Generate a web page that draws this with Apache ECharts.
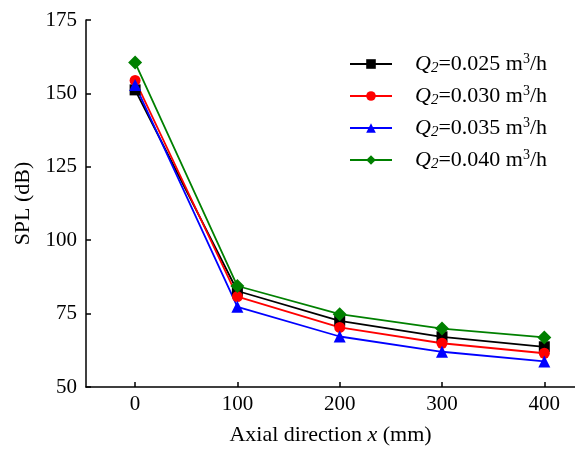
<!DOCTYPE html>
<html><head><meta charset="utf-8">
<script src="https://cdn.jsdelivr.net/npm/echarts@6/dist/echarts.min.js"></script>
<style>html,body{margin:0;padding:0;background:#fff}#c{width:575px;height:451px}</style>
</head><body><div id="c"></div>
<script>
const xValues = [0, 100, 200, 300, 400];
const q025 = [151.2, 82.7, 72.5, 67.1, 63.7];
const q030 = [154.4, 80.8, 70.3, 64.9, 61.5];
const q035 = [152.9, 77.3, 67.2, 62.0, 58.7];
const q040 = [160.5, 84.4, 74.8, 69.9, 66.9];
const seriesNames = ['0.025', '0.030', '0.035', '0.040'];
const xTicks = [0, 100, 200, 300, 400];
const yTicks = [50, 75, 100, 125, 150, 175];

const font = 'Liberation Serif';
const fs = 21;
const chart = echarts.init(document.getElementById('c'));
function mk(name, data, color, symbol, size) {
  return {
    name: name, type: 'line', data: xValues.map((x, i) => [x, data[i]]),
    symbol: symbol, symbolSize: size,
    lineStyle: { color: color, width: 1.8 },
    itemStyle: { color: color },
    emphasis: { disabled: true }, animation: false
  };
}
chart.setOption({
  animation: false,
  grid: { left: 86, top: 20, right: 0, bottom: 63, containLabel: false },
  legend: {
    left: 344, top: 47, orient: 'vertical', itemWidth: 42, itemHeight: 12, itemGap: 8,
    data: seriesNames,
    formatter: n => '{q|Q}{s|2}{n|=' + n + ' m}{p|3}{n|/h}',
    textStyle: {
      fontFamily: font, fontSize: 22, color: '#000', padding: [0, 0, 0, 18],
      rich: {
        q: { fontFamily: font, fontSize: 22, fontStyle: 'italic', color: '#000', height: 25 },
        s: { fontFamily: font, fontSize: 15, fontStyle: 'italic', color: '#000', padding: [9, 0, 0, 0] },
        n: { fontFamily: font, fontSize: 22, color: '#000' },
        p: { fontFamily: font, fontSize: 14, color: '#000', padding: [0, 0, 10, 0] }
      }
    }
  },
  xAxis: {
    type: 'value', min: -48, max: 430,
    axisLine: { show: true, onZero: false, lineStyle: { color: '#000', width: 1.5 } },
    axisTick: { show: true, inside: true, length: 5, customValues: xTicks, lineStyle: { color: '#000', width: 1.5 } },
    axisLabel: { fontFamily: font, fontSize: fs, color: '#000', margin: 7, customValues: xTicks },
    splitLine: { show: false },
    name: 'Axial direction {i|x} (mm)', nameLocation: 'middle', nameGap: 37,
    nameTextStyle: { fontFamily: font, fontSize: 22, color: '#000',
      rich: { i: { fontFamily: font, fontSize: 22, fontStyle: 'italic', color: '#000' } } }
  },
  yAxis: {
    type: 'value', min: 50, max: 175, interval: 25,
    axisLine: { show: true, onZero: false, lineStyle: { color: '#000', width: 1.5 } },
    axisTick: { show: true, inside: true, length: 5, lineStyle: { color: '#000', width: 1.5 } },
    axisLabel: { fontFamily: font, fontSize: fs, color: '#000', margin: 9,
      formatter: v => (yTicks.includes(v) ? String(v) : '') },
    splitLine: { show: false },
    name: 'SPL (dB)', nameLocation: 'middle', nameGap: 52, nameRotate: 90,
    nameTextStyle: { fontFamily: font, fontSize: 22, color: '#000' }
  },
  series: [
    mk(seriesNames[0], q025, '#000000', 'rect', 11),
    mk(seriesNames[1], q030, '#ff0000', 'circle', 11),
    mk(seriesNames[2], q035, '#0000ff', 'triangle', 12),
    mk(seriesNames[3], q040, '#008000', 'diamond', 14)
  ]
});
</script></body></html>
